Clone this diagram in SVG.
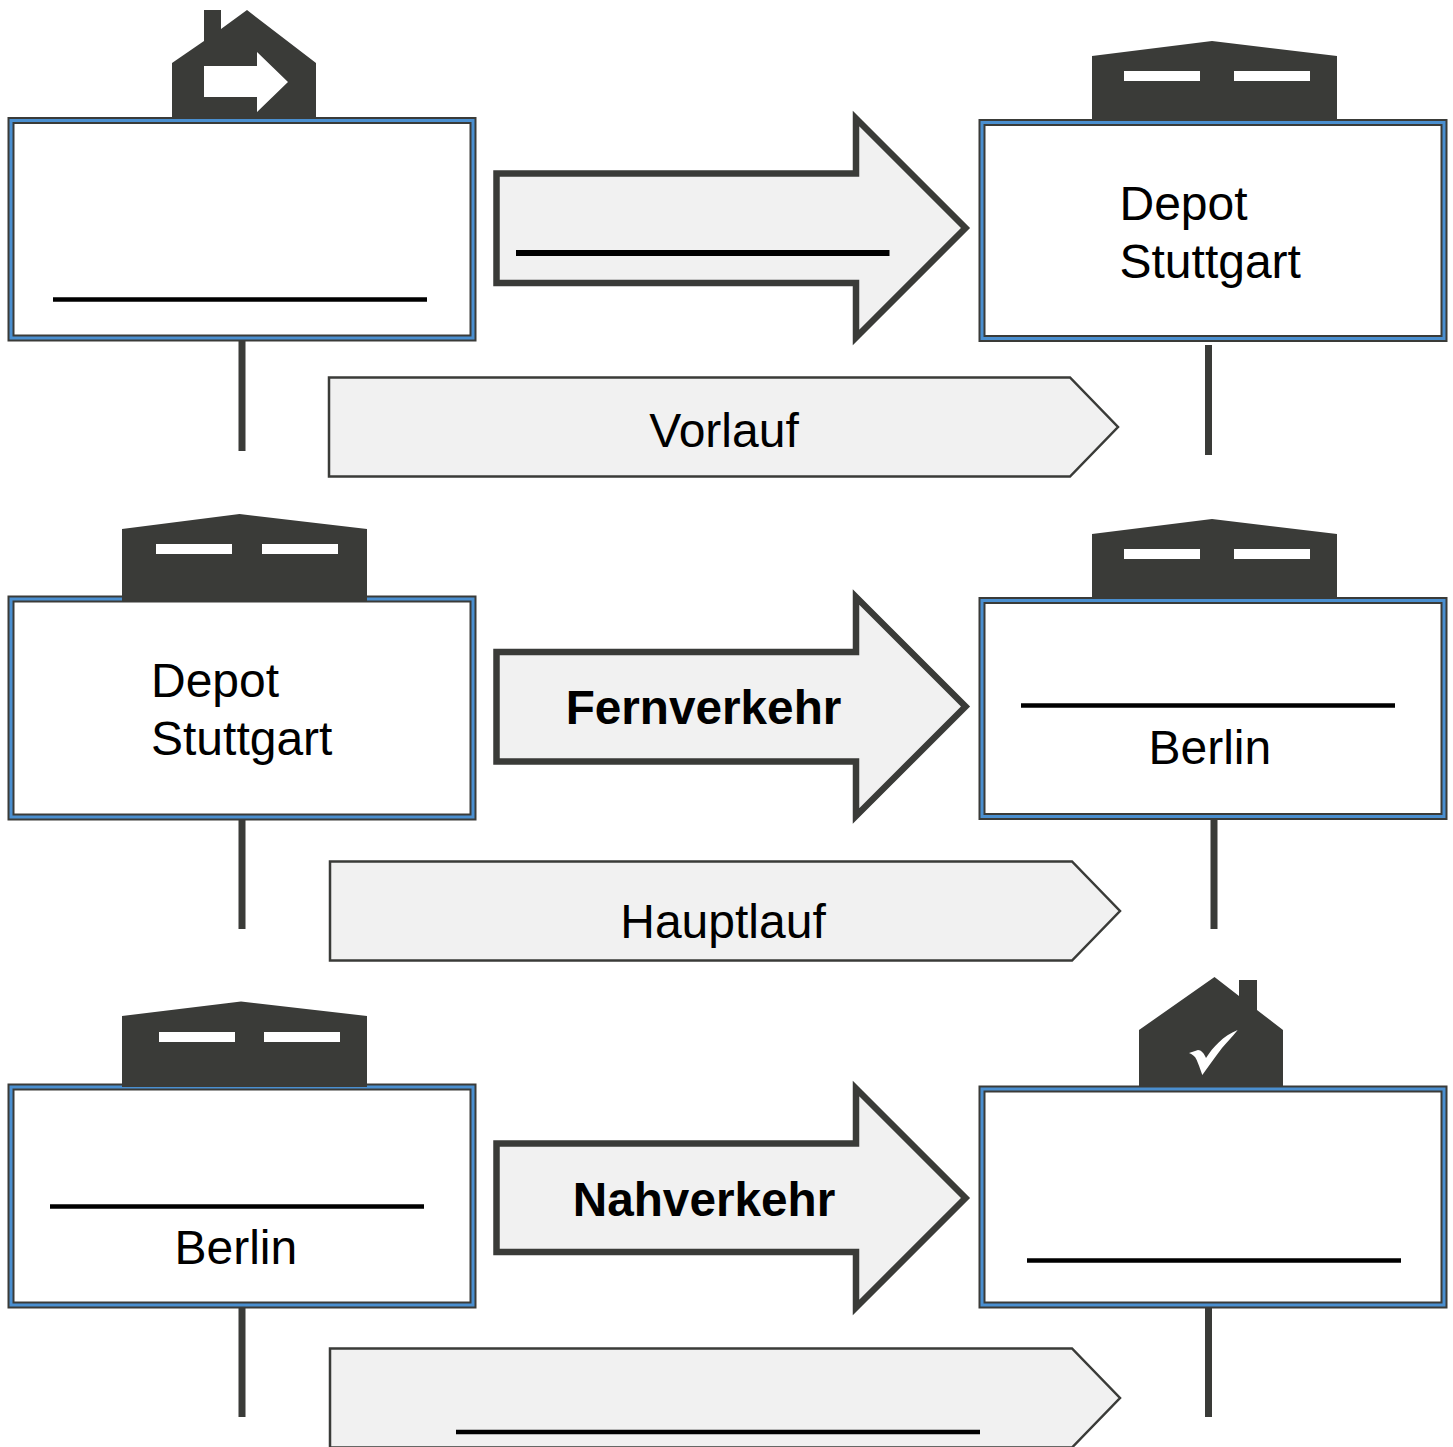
<svg xmlns="http://www.w3.org/2000/svg" width="1453" height="1447" viewBox="0 0 1453 1447">
<style>
.o{fill:none;stroke:#3a3b38;stroke-width:7}
.i{fill:none;stroke:#4a8fd0;stroke-width:3}
.b{fill:#fff;stroke:none}
.d{fill:#3a3b38}
.w{fill:#fff}
.a{fill:#f1f1f1;stroke:#3a3b38;stroke-width:6.500;stroke-miterlimit:10}
.p{fill:#f1f1f1;stroke:#3a3b38;stroke-width:2.5;stroke-linejoin:miter}
.l{fill:none;stroke:#000;stroke-width:4.500}
.s{fill:none;stroke:#3a3b38;stroke-width:7}
text{font-family:"Liberation Sans",Arial,sans-serif;font-size:48px;fill:#000}
.t{font-weight:bold;font-size:47.700px}
</style>
<rect width="1453" height="1447" fill="#fff"/>
<g id="connectors">
<path class="s" d="M242 341V451M1208.500 345V455M242 819V929M1214 819V929M242 1307V1417M1208.500 1307V1417"/>
</g>
<g id="house-start"><path class="d" d="M172 63L204 41V10H221V29L247 10L316 63V124H172Z"/><path class="w" d="M204 66H257V52L288 82L257 112V97H204Z"/></g>
<g id="depot1"><path class="d" d="M1092 56L1212 41L1337 56V127H1092Z"/><path class="w" d="M1124 71H1200V81H1124ZM1234 71H1310V81H1234Z"/></g>
<g id="depot3"><path class="d" d="M1092 534L1212 519L1337 534V605H1092Z"/><path class="w" d="M1124 549H1200V559H1124ZM1234 549H1310V559H1234Z"/></g>
<g id="box1"><rect class="b" x="11" y="120.500" width="462" height="217.500"/><rect class="o" x="11" y="120.500" width="462" height="217.500"/><rect class="i" x="11" y="120.500" width="462" height="217.500"/><path class="l" d="M53 299.500H427"/></g>
<g id="box2"><rect class="b" x="982" y="122.500" width="462" height="216"/><rect class="o" x="982" y="122.500" width="462" height="216"/><rect class="i" x="982" y="122.500" width="462" height="216"/><text x="1119.500" y="220">Depot</text><text x="1119.500" y="278">Stuttgart</text></g>
<g id="box3"><rect class="b" x="11" y="599" width="462" height="218"/><rect class="o" x="11" y="599" width="462" height="218"/><rect class="i" x="11" y="599" width="462" height="218"/><text x="151" y="697">Depot</text><text x="151" y="755">Stuttgart</text></g>
<g id="box4"><rect class="b" x="982" y="600.500" width="462" height="216"/><rect class="o" x="982" y="600.500" width="462" height="216"/><rect class="i" x="982" y="600.500" width="462" height="216"/><path class="l" d="M1021 705.500H1395"/><text x="1148.500" y="763.500">Berlin</text></g>
<g id="box5"><rect class="b" x="11" y="1087" width="462" height="218"/><rect class="o" x="11" y="1087" width="462" height="218"/><rect class="i" x="11" y="1087" width="462" height="218"/><path class="l" d="M50 1206.500H424"/><text x="174.500" y="1264">Berlin</text></g>
<g id="box6"><rect class="b" x="982" y="1089" width="462" height="216"/><rect class="o" x="982" y="1089" width="462" height="216"/><rect class="i" x="982" y="1089" width="462" height="216"/><path class="l" d="M1027 1260.500H1401"/></g>
<g id="house-end"><path class="d" d="M1139 1030L1214.500 977L1239 996V980H1257V1010L1283 1030V1086H1139Z"/><path class="w" d="M1189 1053L1198 1050C1201 1050 1204 1053 1206 1058C1213 1047 1223 1036 1237.700 1030C1232 1037 1227 1042 1222 1048C1215 1057 1208 1067 1202.300 1075C1200 1068 1198 1063 1196.700 1060C1195 1056 1192 1054 1189 1053Z"/></g>
<g id="depot2"><path class="d" d="M122 529L239.500 514L367 529V602H122Z"/><path class="w" d="M156 544H232V554H156ZM262 544H338V554H262Z"/></g>
<g id="depot4"><path class="d" d="M122 1016L241 1001.500L367 1016V1087H122Z"/><path class="w" d="M159 1032H235V1042H159ZM264 1032H340V1042H264Z"/></g>
<g id="arrow1"><path class="a" d="M496.500 173.500H856V118.500L965.500 228L856 337.500V283H496.500Z"/><path class="l" style="stroke-width:6" d="M516 253H889.500"/></g>
<g id="arrow2"><path class="a" d="M496.500 652H856V597L965.500 706.500L856 816V761.500H496.500Z"/><text class="t" x="703.500" y="724" text-anchor="middle">Fernverkehr</text></g>
<g id="arrow3"><path class="a" d="M496.500 1143.500H856V1088.500L965.500 1198L856 1307.500V1252H496.500Z"/><text class="t" x="704" y="1216" text-anchor="middle">Nahverkehr</text></g>
<g id="phase1"><path class="p" d="M329 377.500H1070L1118 427L1070 476.500H329Z"/><text x="724" y="447" text-anchor="middle">Vorlauf</text></g>
<g id="phase2"><path class="p" d="M330 861.500H1072L1120 911L1072 960.500H330Z"/><text x="723" y="938" text-anchor="middle">Hauptlauf</text></g>
<g id="phase3"><path class="p" d="M330 1348.500H1072L1120 1398L1072 1447.500H330Z"/><path class="l" d="M456 1432H980"/></g>
</svg>
